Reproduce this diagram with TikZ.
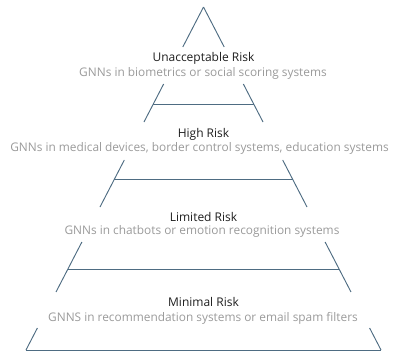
\documentclass[tikz,border=0pt]{standalone}
\usepackage{fontspec}
\setmainfont{Open Sans}
\definecolor{edgeblue}{HTML}{4E6C82}
\definecolor{titlegray}{HTML}{1E1E1E}
\definecolor{subgray}{HTML}{9A9A9A}
\tikzset{
  edge/.style={draw=edgeblue, line width=0.7pt},
  tiertitle/.style={text=titlegray, font=\fontsize{9}{11}\selectfont, inner sep=0pt},
  tiersub/.style={text=subgray, font=\fontsize{8.9}{11}\selectfont, inner sep=0pt}
}
\newcommand{\lx}[1]{203.5-0.5175*(#1-7)}
\newcommand{\rx}[1]{203.5+0.5175*(#1-7)}
\begin{document}
\begin{tikzpicture}[x=0.75pt, y=-0.75pt]
  \useasboundingbox (0,0) rectangle (394,354);
  % sides of the pyramid, broken where the text sits
  \foreach \ya/\yb in {7/47, 84/122, 160/207, 242/292, 328/350} {
    \draw[edge] ({\lx{\ya}},\ya) -- ({\lx{\yb}},\yb);
    \draw[edge] ({\rx{\ya}},\ya) -- ({\rx{\yb}},\yb);
  }
  % tier separators
  \foreach \y in {104, 179, 269, 350}
    \draw[edge] ({\lx{\y}},\y) -- ({\rx{\y}},\y);
  % labels
  \node[tiertitle] (unaccT) at (203.5,58) {Unacceptable Risk};
  \node[tiersub]   (unaccS) at (203,73) {GNNs in biometrics or social scoring systems};
  \node[tiertitle] (highT)  at (203.5,134) {High Risk};
  \node[tiersub]   (highS)  at (199.5,148) {GNNs in medical devices, border control systems, education systems};
  \node[tiertitle] (limT)   at (203.5,217) {Limited Risk};
  \node[tiersub]   (limS)   at (202,231) {GNNs in chatbots or emotion recognition systems};
  \node[tiertitle] (minT)   at (203.5,302) {Minimal Risk};
  \node[tiersub]   (minS)   at (203,318) {GNNS in recommendation systems or email spam filters};
\end{tikzpicture}
\end{document}
